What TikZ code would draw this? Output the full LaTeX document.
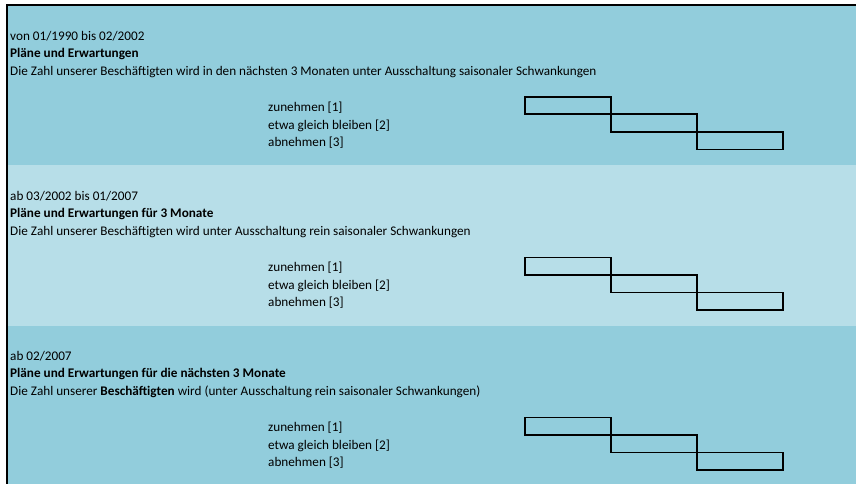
\documentclass[tikz,border=0pt]{standalone}
\usepackage{fontspec}
\setmainfont{Carlito}
\definecolor{dunkelblau}{HTML}{92CDDC}
\definecolor{hellblau}{HTML}{B7DEE8}
\begin{document}
\begin{tikzpicture}[x=1pt, y=-1pt,
    zeile/.style = {anchor = base west, inner sep = 0pt, font = \fontsize{13.2}{16}\selectfont},
    kasten/.style = {draw, line width = 1.9pt, anchor = north west, inner sep = 0pt,
        minimum width = 86pt, minimum height = 17.5pt}]
        \useasboundingbox (0,0) rectangle (856,484);

        %Hintergrund
        \fill [dunkelblau] (7,5) rectangle (856,165);
        \fill [hellblau] (7,165) rectangle (856,326);
        \fill [dunkelblau] (7,326) rectangle (856,484);
        \draw [line width = 2pt] (7,484) -- (7,5) -- (856,5);

        %von 01/1990 bis 02/2002
        \node [zeile] (zeit1)at(10,40.3){von 01/1990 bis 02/2002};
        \node [zeile] (titel1)at(10,57.7){\textbf{Pläne und Erwartungen}};
        \node [zeile] (frage1)at(10,75.1){Die Zahl unserer Beschäftigten wird in den nächsten 3 Monaten unter Ausschaltung saisonaler Schwankungen};
        \node [zeile] (zu1)at(268,111.9){zunehmen [1]};
        \node [zeile] (gleich1)at(268,129.3){etwa gleich bleiben [2]};
        \node [zeile] (ab1)at(268,146.7){abnehmen [3]};
        \node [kasten] (kzu1)at(524,96){};
        \node [kasten] (kgleich1)at(610,113.5){};
        \node [kasten] (kab1)at(696,131){};

        %ab 03/2002 bis 01/2007
        \node [zeile] (zeit2)at(10,200.3){ab 03/2002 bis 01/2007};
        \node [zeile] (titel2)at(10,217.7){\textbf{Pläne und Erwartungen für 3 Monate}};
        \node [zeile] (frage2)at(10,235.1){Die Zahl unserer Beschäftigten wird unter Ausschaltung rein saisonaler Schwankungen};
        \node [zeile] (zu2)at(268,271.9){zunehmen [1]};
        \node [zeile] (gleich2)at(268,289.3){etwa gleich bleiben [2]};
        \node [zeile] (ab2)at(268,306.7){abnehmen [3]};
        \node [kasten] (kzu2)at(524,256.5){};
        \node [kasten] (kgleich2)at(610,274){};
        \node [kasten] (kab2)at(696,291.5){};

        %ab 02/2007
        \node [zeile] (zeit3)at(10,360.3){ab 02/2007};
        \node [zeile] (titel3)at(10,377.7){\textbf{Pläne und Erwartungen für die nächsten 3 Monate}};
        \node [zeile] (frage3)at(10,395.1){Die Zahl unserer \textbf{Beschäftigten} wird (unter Ausschaltung rein saisonaler Schwankungen)};
        \node [zeile] (zu3)at(268,431.9){zunehmen [1]};
        \node [zeile] (gleich3)at(268,449.3){etwa gleich bleiben [2]};
        \node [zeile] (ab3)at(268,466.7){abnehmen [3]};
        \node [kasten] (kzu3)at(524,416.5){};
        \node [kasten] (kgleich3)at(610,434){};
        \node [kasten] (kab3)at(696,451.5){};

    \end{tikzpicture}
\end{document}
